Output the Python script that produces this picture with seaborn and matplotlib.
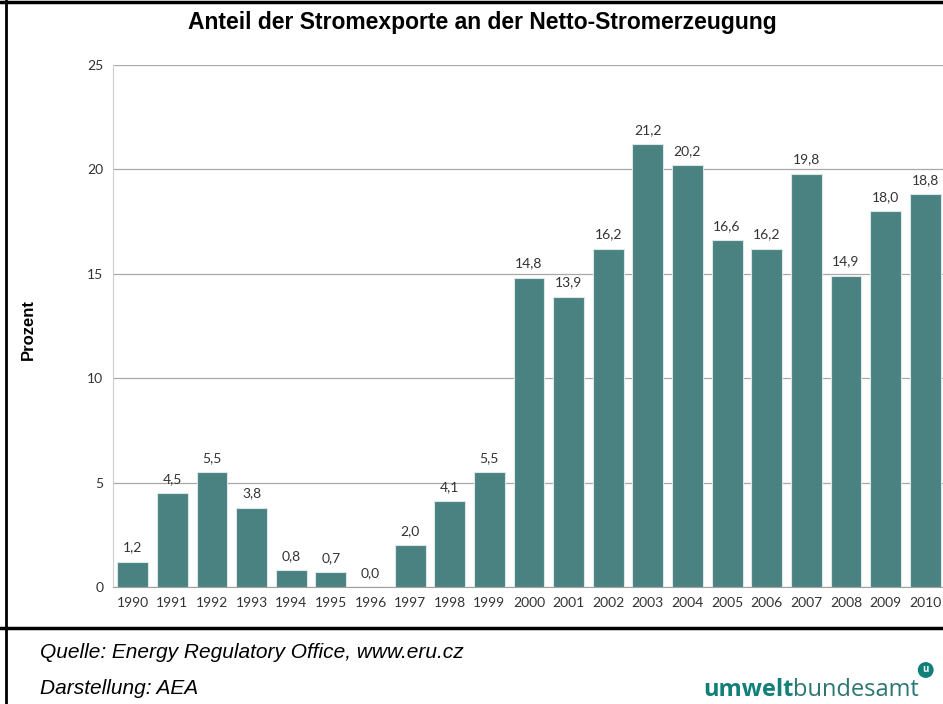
import matplotlib
matplotlib.use("Agg")
import matplotlib.pyplot as plt
import pandas as pd
import seaborn as sns
from matplotlib.lines import Line2D

# Data
years = [str(y) for y in range(1990, 2011)]
shares = [1.2, 4.5, 5.5, 3.8, 0.8, 0.7, 0.0, 2.0, 4.1, 5.5, 14.8,
          13.9, 16.2, 21.2, 20.2, 16.6, 16.2, 19.8, 14.9, 18.0, 18.8]
y_ticks = [0, 5, 10, 15, 20, 25]

title = "Anteil der Stromexporte an der Netto-Stromerzeugung"
source_line = "Quelle: Energy Regulatory Office, www.eru.cz"
credit_line = "Darstellung: AEA"

df = pd.DataFrame({"year": years, "value": shares})

sns.set_style("white")
plt.rcParams["font.family"] = ["Lato", "DejaVu Sans"]

W, H = 943, 704
fig = plt.figure(figsize=(W / 100, H / 100), dpi=100)
ax = fig.add_axes([113 / W, 1 - 587 / H, 832 / W, (587 - 65) / H])

bar_color = "#4a8281"
sns.barplot(data=df, x="year", y="value", color=bar_color, saturation=1,
            width=0.78, edgecolor="#dbe6e6", linewidth=0.8, ax=ax, zorder=3)

ax.set_xlim(-0.5, len(years) - 0.5)
ax.set_ylim(0, 25)
ax.set_yticks(y_ticks)
ax.set_yticklabels([str(t) for t in y_ticks])
ax.yaxis.grid(True, color="#a8a8a8", linewidth=0.9, zorder=0)
ax.set_axisbelow(True)

ax.set_xlabel("")
ax.set_ylabel("")

for s in ["top", "right"]:
    ax.spines[s].set_visible(False)
ax.spines["left"].set_color("#cfcfcf")
ax.spines["bottom"].set_color("#a0a0a0")

# ticks between categories like the original
ax.set_xticks([i + 0.5 for i in range(-1, len(years))], minor=True)
ax.tick_params(axis="x", which="major", length=0, pad=7, labelsize=10,
               labelcolor="#333333")
ax.tick_params(axis="x", which="minor", length=4, color="#a0a0a0", width=0.8)
ax.tick_params(axis="y", length=4, color="#a0a0a0", width=0.8, pad=3,
               labelsize=10, labelcolor="#333333")

labels = [f"{v:.1f}".replace(".", ",") for v in shares]
ax.bar_label(ax.containers[0], labels=labels, padding=6, fontsize=10,
             color="#333333")

fig.text(482 / W, 1 - 22 / H, title, ha="center", va="center",
         fontsize=16.5, fontweight="bold", family="Liberation Sans",
         color="black")
fig.text(28 / W, 1 - 330 / H, "Prozent", rotation=90, ha="center",
         va="center", fontsize=12, fontweight="bold", family="Liberation Sans",
         color="black")

fig.text(40 / W, 1 - 653 / H, source_line, ha="left", va="center",
         fontsize=15, style="italic", family="Liberation Sans", color="black")
fig.text(40 / W, 1 - 688 / H, credit_line, ha="left", va="center",
         fontsize=15, style="italic", family="Liberation Sans", color="black")

# logo text
t1 = fig.text(703 / W, 1 - 696 / H, "umwelt", ha="left", va="baseline",
              fontsize=17, fontweight="bold", color="#118079",
              family="Open Sans")
fig.canvas.draw()
bb = t1.get_window_extent()
t2 = fig.text(bb.x1 / W, 1 - 696 / H, "bundesamt", ha="left", va="baseline",
              fontsize=17, color="#2b7572", family="Open Sans")
fig.canvas.draw()
bb2 = t2.get_window_extent()
fig.text(bb2.x1 / W + 0.007, 1 - 670 / H, "u", ha="center", va="center",
         fontsize=7, fontweight="bold", color="white", family="Open Sans",
         bbox=dict(boxstyle="circle,pad=0.25", fc="#118079", ec="none"))

# frame lines
fig.add_artist(Line2D([0, 1], [1 - 2 / H, 1 - 2 / H], color="black", lw=2.5))
fig.add_artist(Line2D([6 / W, 6 / W], [0, 1], color="black", lw=2))
fig.add_artist(Line2D([0, 1], [1 - 628 / H, 1 - 628 / H], color="black", lw=2.5))

fig.savefig("out.png", dpi=100)
